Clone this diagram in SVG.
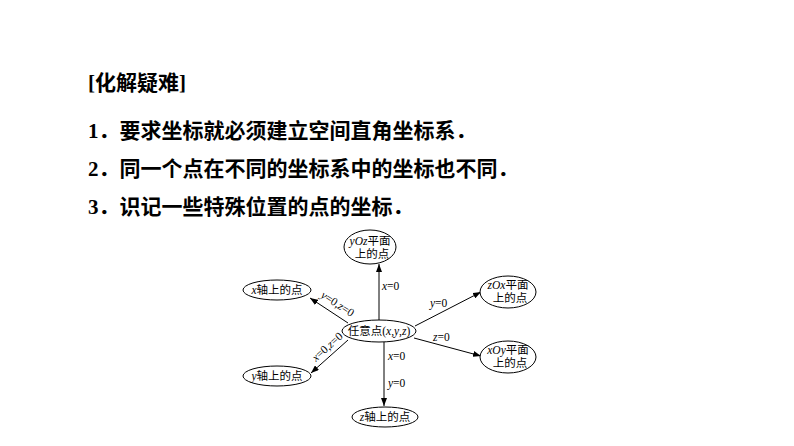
<svg xmlns="http://www.w3.org/2000/svg" width="794" height="446" viewBox="0 0 794 446">
<style>
.t{font-family:"Liberation Serif","Noto Sans CJK SC",serif;font-size:21px;font-weight:bold;fill:#000}
.n{fill:#fff;stroke:#000;stroke-width:1}
.l{font-family:"Liberation Serif","Noto Sans CJK SC",serif;font-size:11.5px;fill:#000}
.c{stroke:#000;stroke-width:1;fill:none;marker-end:url(#a)}
</style>
<defs><marker id="a" markerWidth="8" markerHeight="6" refX="8" refY="3" orient="auto" markerUnits="userSpaceOnUse"><path d="M0,0L8,3L0,6z" fill="#000"/></marker></defs>
<rect width="794" height="446" fill="#fff"/>
<text class="t" x="88" y="90" font-size="20">[化解疑难]</text>
<text class="t" x="88" y="138">1．要求坐标就必须建立空间直角坐标系．</text>
<text class="t" x="88" y="176">2．同一个点在不同的坐标系中的坐标也不同．</text>
<text class="t" x="88" y="214">3．识记一些特殊位置的点的坐标．</text>
<g id="connectors">
<line class="c" x1="379" y1="320" x2="379" y2="264"/>
<line class="c" x1="348" y1="323" x2="310" y2="298"/>
<line class="c" x1="415" y1="326" x2="481" y2="292"/>
<line class="c" x1="414" y1="338" x2="481" y2="356"/>
<line class="c" x1="348" y1="340" x2="311" y2="373"/>
<line class="c" x1="384" y1="342" x2="384" y2="406"/>
<text class="l" x="382" y="290"><tspan font-style="italic">x</tspan>=0</text>
<text class="l" transform="translate(320,297) rotate(33)"><tspan font-style="italic">y</tspan>=0,<tspan font-style="italic">z</tspan>=0</text>
<text class="l" x="430" y="307"><tspan font-style="italic">y</tspan>=0</text>
<text class="l" x="433" y="341"><tspan font-style="italic">z</tspan>=0</text>
<text class="l" transform="translate(316,362) rotate(-42)"><tspan font-style="italic">x</tspan>=0,<tspan font-style="italic">z</tspan>=0</text>
<text class="l" x="388" y="360"><tspan font-style="italic">x</tspan>=0</text>
<text class="l" x="388" y="387"><tspan font-style="italic">y</tspan>=0</text>
</g>
<g id="center"><ellipse class="n" cx="379" cy="331" rx="37" ry="11"/><text class="l" x="379" y="335" text-anchor="middle">任意点(<tspan font-style="italic">x</tspan>,<tspan font-style="italic">y</tspan>,<tspan font-style="italic">z</tspan>)</text></g>
<g id="yOz"><ellipse class="n" cx="370" cy="247" rx="26" ry="17"/><text class="l" x="370" y="245" text-anchor="middle"><tspan font-style="italic">yOz</tspan>平面</text><text class="l" x="372" y="258" text-anchor="middle">上的点</text></g>
<g id="xaxis"><ellipse class="n" cx="277" cy="290" rx="34" ry="10"/><text class="l" x="277" y="294" text-anchor="middle"><tspan font-style="italic">x</tspan>轴上的点</text></g>
<g id="zOx"><ellipse class="n" cx="508" cy="292" rx="28" ry="16"/><text class="l" x="508" y="289" text-anchor="middle"><tspan font-style="italic">zOx</tspan>平面</text><text class="l" x="510" y="302" text-anchor="middle">上的点</text></g>
<g id="xOy"><ellipse class="n" cx="508" cy="357" rx="28" ry="16"/><text class="l" x="508" y="354" text-anchor="middle"><tspan font-style="italic">xOy</tspan>平面</text><text class="l" x="510" y="367" text-anchor="middle">上的点</text></g>
<g id="yaxis"><ellipse class="n" cx="277" cy="376" rx="34" ry="10"/><text class="l" x="277" y="380" text-anchor="middle"><tspan font-style="italic">y</tspan>轴上的点</text></g>
<g id="zaxis"><ellipse class="n" cx="385" cy="417" rx="33" ry="10"/><text class="l" x="385" y="421" text-anchor="middle"><tspan font-style="italic">z</tspan>轴上的点</text></g>
</svg>
